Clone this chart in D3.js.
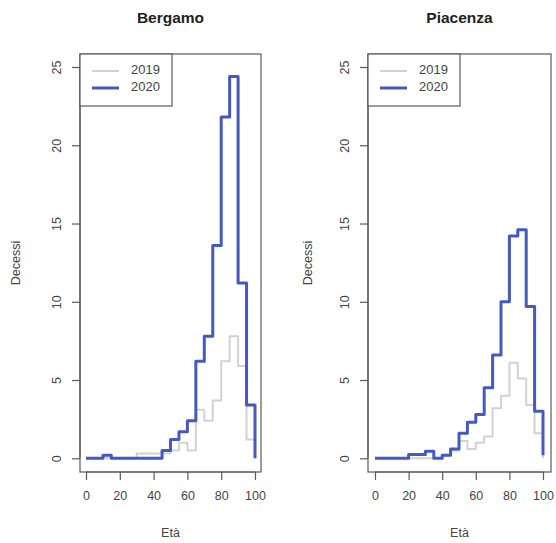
<!DOCTYPE html>
<html>
<head>
<meta charset="utf-8">
<script src="https://cdn.jsdelivr.net/npm/d3@7"></script>
<style>
  html, body { margin: 0; padding: 0; background: #fff; }
  svg { display: block; }
  text { font-family: "Liberation Sans", Arial, Helvetica, sans-serif; fill: #333; }
</style>
</head>
<body>
<svg id="chart" width="556" height="543"></svg>
<script>
// ---- data ----
const ages = [0,5,10,15,20,25,30,35,40,45,50,55,60,65,70,75,80,85,90,95,100];
const xTicks = [0,20,40,60,80,100];
const yTicks = [0,5,10,15,20,25];
const years = ["2019","2020"];
const panelTitles = ["Bergamo","Piacenza"];
const bergamo2019 = [0,0,0,0,0,0,0.3,0.3,0.3,0.3,0.5,1.0,0.5,3.1,2.4,3.7,6.2,7.8,5.9,1.2,0];
const bergamo2020 = [0,0,0.2,0,0,0,0,0,0,0.5,1.2,1.7,2.4,6.2,7.8,13.6,21.8,24.4,11.2,3.4,0];
const piacenza2019 = [0,0,0,0,0,0,0,0,0.2,0.5,1.1,0.6,1.0,1.4,3.2,4.0,6.1,5.1,3.4,1.6,0];
const piacenza2020 = [0,0,0,0,0.25,0.25,0.45,0,0.2,0.6,1.6,2.3,2.8,4.5,6.6,10.0,14.2,14.6,9.7,3.0,0.2];

const colors = ["#d2d2d2", "#4559c0"];
const widths = [2, 3];

const svg = d3.select("#chart");

const panels = [
  { title: panelTitles[0], series: [bergamo2019, bergamo2020], box: [80, 54, 261, 472], xr: [86, 255], ylabX: 17 },
  { title: panelTitles[1], series: [piacenza2019, piacenza2020], box: [368, 54, 551, 472], xr: [375, 543], ylabX: 309 }
];

panels.forEach(p => {
  const g = svg.append("g");
  const [x0, y0, x1, y1] = p.box;
  const x = d3.scaleLinear().domain([0, 100]).range(p.xr);
  const y = d3.scaleLinear().domain([0, 25]).range([458.3, 67]);

  // title
  g.append("text").attr("x", (x0 + x1) / 2).attr("y", 23)
    .attr("text-anchor", "middle").style("font-weight", "bold").style("font-size", "15.5px")
    .style("fill", "#222").text(p.title);

  // series
  const line = d3.line().x((d, i) => x(ages[i])).y(d => y(d)).curve(d3.curveStepAfter);
  p.series.forEach((s, k) => {
    g.append("path").datum(s).attr("d", line)
      .attr("fill", "none").attr("stroke", colors[k]).attr("stroke-width", widths[k])
      .attr("stroke-linejoin", "round").attr("stroke-linecap", "butt");
  });

  // box
  g.append("rect").attr("x", x0).attr("y", y0).attr("width", x1 - x0).attr("height", y1 - y0)
    .attr("fill", "none").attr("stroke", "#5a5a5a").attr("stroke-width", 1.2);

  // y axis
  const ya = d3.axisLeft(y).tickValues(yTicks).tickSize(8).tickPadding(0).tickFormat(d3.format("d"));
  const yg = g.append("g").attr("transform", `translate(${x0},0)`).call(ya);
  yg.select(".domain").attr("stroke", "#5a5a5a").attr("stroke-width", 1.2).attr("d", `M0,${y(0)}V${y(25)}`);
  yg.selectAll(".tick line").attr("stroke", "#5a5a5a").attr("stroke-width", 1.2);
  yg.selectAll(".tick text").attr("x", 0).attr("dy", null)
    .attr("transform", "translate(-22,0) rotate(-90)")
    .attr("text-anchor", "middle").attr("dominant-baseline", "middle")
    .style("font-size", "12.5px").style("fill", "#444");

  // x axis
  const xa = d3.axisBottom(x).tickValues(xTicks).tickSize(8).tickPadding(11).tickFormat(d3.format("d"));
  const xg = g.append("g").attr("transform", `translate(0,${y1})`).call(xa);
  xg.select(".domain").attr("stroke", "#5a5a5a").attr("stroke-width", 1.2).attr("d", `M${x(0)},0H${x(100)}`);
  xg.selectAll(".tick line").attr("stroke", "#5a5a5a").attr("stroke-width", 1.2);
  xg.selectAll(".tick text").style("font-size", "12.5px").style("fill", "#444");

  // axis titles
  g.append("text").attr("x", (x0 + x1) / 2).attr("y", 537).attr("text-anchor", "middle")
    .style("font-size", "12.5px").style("fill", "#444").text("Età");
  g.append("text").attr("transform", `translate(${p.ylabX},${(y0 + y1) / 2}) rotate(-90)`)
    .attr("text-anchor", "middle").attr("dominant-baseline", "middle")
    .style("font-size", "12.5px").style("fill", "#444").text("Decessi");

  // legend
  const lg = g.append("g");
  lg.append("rect").attr("x", x0).attr("y", y0).attr("width", 92).attr("height", 52)
    .attr("fill", "#fff").attr("stroke", "#5a5a5a").attr("stroke-width", 1.2);
  years.forEach((yr, k) => {
    const ly = y0 + 17 + k * 17;
    lg.append("line").attr("x1", x0 + 12).attr("x2", x0 + 39).attr("y1", ly).attr("y2", ly)
      .attr("stroke", colors[k]).attr("stroke-width", widths[k]);
    lg.append("text").attr("x", x0 + 51).attr("y", ly).attr("dominant-baseline", "middle")
      .style("font-size", "13px").style("fill", "#444").text(yr);
  });
});
</script>
</body>
</html>
